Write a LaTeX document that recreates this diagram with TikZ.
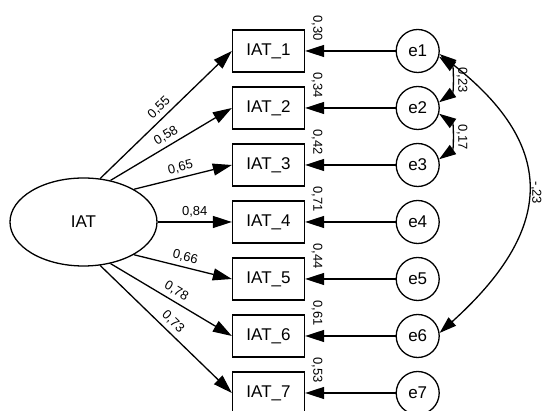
\documentclass[tikz,border=0pt]{standalone}
\usepackage{fontspec}
\setmainfont{Liberation Sans}
\usetikzlibrary{arrows.meta,shapes.geometric}
\begin{document}
\begin{tikzpicture}[x=1pt,y=1pt,
  lw/.style={line width=1.3pt},
  big/.style={font=\fontsize{17}{20}\selectfont},
  obs/.style={draw,lw,big,minimum width=72pt,minimum height=42pt,inner sep=0pt},
  err/.style={draw,lw,big,circle,minimum size=43pt,inner sep=0pt},
  lat/.style={draw,lw,big,ellipse,minimum width=147pt,minimum height=88pt,inner sep=0pt},
  arr/.style={lw,-{Triangle[length=19pt,width=12pt]}},
  cov/.style={lw,{Triangle[length=17pt,width=11pt]}-{Triangle[length=17pt,width=11pt]}},
  lab/.style={font=\fontsize{13}{15}\selectfont,inner sep=1pt},
  rlab/.style={lab,rotate=-90},
  ld/.style={lab,sloped,above=3pt,midway}
]
\useasboundingbox (0,0) rectangle (543,411);
\node[lat] (iat) at (83.5,189) {IAT};
\foreach \i/\y in {1/360,2/303,3/246,4/189,5/132,6/75,7/18}{
  \node[obs] (b\i) at (268.5,\y) {IAT\_\i};
  \node[err] (e\i) at (417.7,\y) {e\i};
}
\draw[arr] (iat.69) -- node[ld]{0,55} (b1.west);
\draw[arr] (iat.57) -- node[ld]{0,58} (b2.west);
\draw[arr] (iat.33) -- node[ld]{0,65} (b3.west);
\draw[arr] (iat.east) -- node[ld]{0,84} (b4.west);
\draw[arr] (iat.-33) -- node[ld]{0,66} (b5.west);
\draw[arr] (iat.-57) -- node[ld]{0,78} (b6.west);
\draw[arr] (iat.-69) -- node[ld]{0,73} (b7.west);
\foreach \i in {1,...,7}{
  \draw[arr] (e\i) -- (b\i);
}
\node[rlab] (r1) at (317,383) {0,30};
\node[rlab] (r2) at (317,326) {0,34};
\node[rlab] (r3) at (317,269) {0,42};
\node[rlab] (r4) at (317,212) {0,71};
\node[rlab] (r5) at (317,155) {0,44};
\node[rlab] (r6) at (317,98) {0,61};
\node[rlab] (r7) at (317,41) {0,53};
\draw[cov] (e1.-15) to[out=-35,in=35] (e2.15);
\draw[cov] (e2.-15) to[out=-35,in=35] (e3.15);
\draw[cov] (e1.-8) to[out=-38,in=42,looseness=1.4] (e6.8);
\node[rlab] (c12) at (462,331) {0,23};
\node[rlab] (c23) at (462,274) {0,17};
\node[rlab] (c16) at (536,218) {-,23};
\end{tikzpicture}
\end{document}
